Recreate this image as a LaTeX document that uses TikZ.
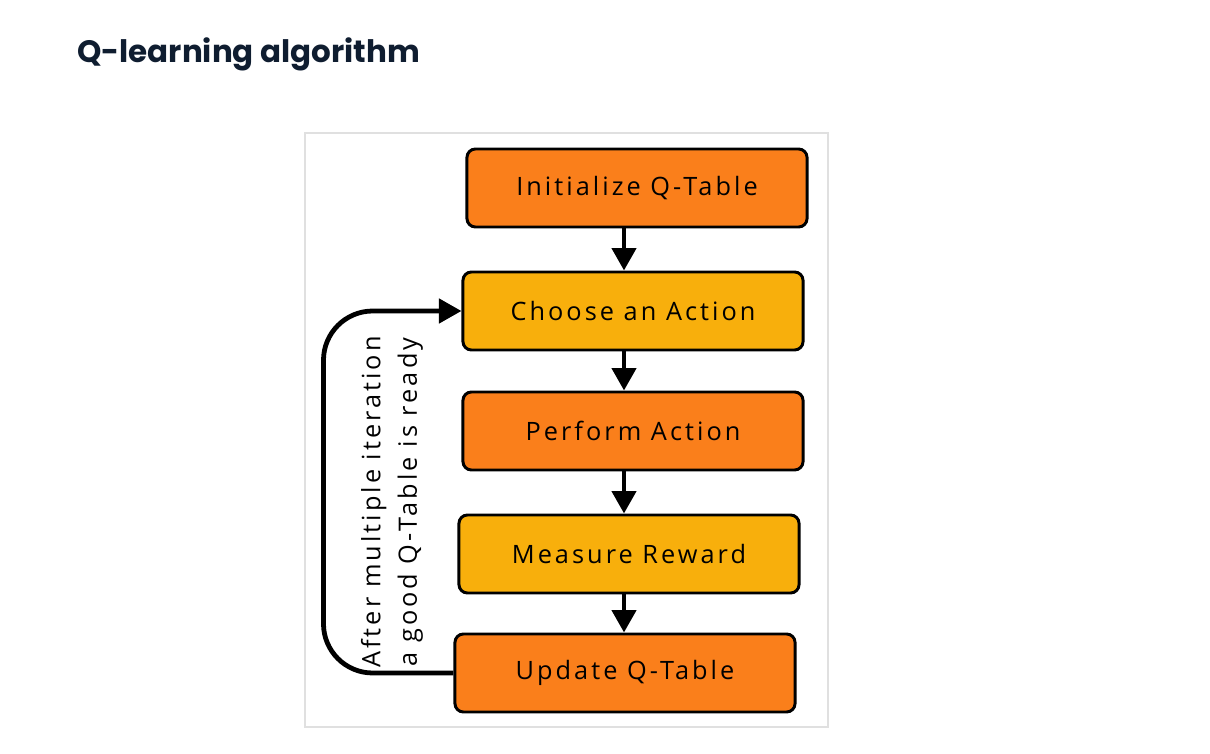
\documentclass[tikz,border=0pt]{standalone}
\usepackage{fontspec}
\setmainfont{Open Sans}[LetterSpace=12]
\newfontfamily\titlefont{Poppins}
\usetikzlibrary{arrows.meta}
\definecolor{qorange}{HTML}{FA7F1B}
\definecolor{qyellow}{HTML}{F8AF0C}
\definecolor{qnavy}{HTML}{0F1D30}

\begin{document}
\begin{tikzpicture}[x=0.025cm, y=-0.025cm, >={Triangle[length=16pt,width=17pt]},
  every node/.style={font=\fontsize{18}{26}\selectfont},
  stage/.style={draw, line width=2.1pt, rounded corners=6pt, minimum width=8.5cm, minimum height=1.95cm, inner sep=0pt},
  flow/.style={->, line width=3.4pt}]
\fill[white] (0,0) rectangle (1210,754);
\useasboundingbox (0,0) rectangle (1210,754);
\node[anchor=base west, inner sep=0pt, text=qnavy, font=\titlefont\bfseries\fontsize{22}{24}\selectfont] (title) at (77,63) {Q-learning algorithm};
\draw[black!12, line width=1pt] (305,133) rectangle (828,727);
\node[stage, fill=qorange] (init) at (637,188) {Initialize Q-Table};
\node[stage, fill=qyellow] (choose) at (633,311) {Choose an Action};
\node[stage, fill=qorange] (perform) at (633,431) {Perform Action};
\node[stage, fill=qyellow] (measure) at (629,554) {Measure Reward};
\node[stage, fill=qorange] (update) at (625,673) {Update Q-Table};
\coordinate (ax) at (624,0);
\foreach \a/\b in {init/choose, choose/perform, perform/measure, measure/update}
  \draw[flow] (\a.south -| ax) -- (\b.north -| ax);
\draw[flow, rounded corners=35pt] (update.west) -- ++(-130,0) |- (choose.west);
\node[rotate=90, align=center] (note) at (392,502) {After multiple iteration\\a good Q-Table is ready};
\end{tikzpicture}
\end{document}
